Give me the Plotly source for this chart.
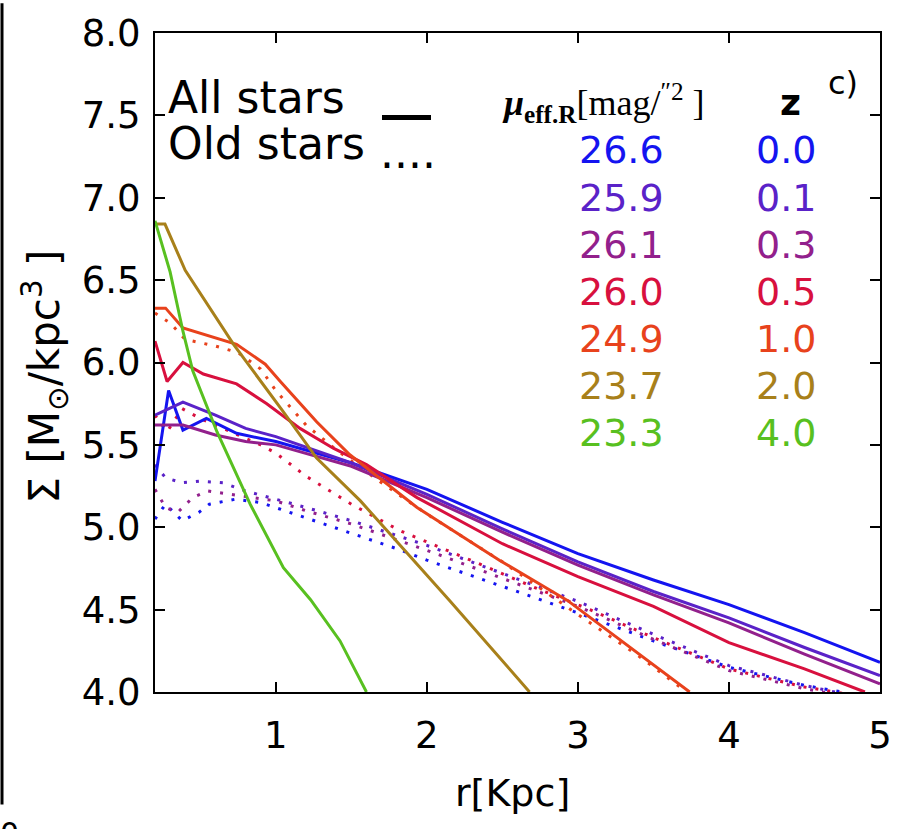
import plotly.graph_objects as go

# ---------------- data ----------------
z_labels = ["0.0", "0.1", "0.3", "0.5", "1.0", "2.0", "4.0"]
mu_labels = ["26.6", "25.9", "26.1", "26.0", "24.9", "23.7", "23.3"]
colors = ["#1414f0", "#5a22c8", "#92208c", "#d8103e", "#e8421c", "#a8801a", "#58c020"]

# solid lines: all stars
all_z00_x = [0.2, 0.29, 0.385, 0.54, 0.74, 1.0, 1.5, 2.0, 2.5, 3.0, 3.5, 4.0, 4.5, 5.0]
all_z00_y = [5.28, 5.83, 5.59, 5.66, 5.57, 5.52, 5.39, 5.23, 5.03, 4.84, 4.68, 4.53, 4.36, 4.18]
all_z01_x = [0.2, 0.385, 0.6, 0.8, 1.0, 1.5, 2.0, 2.5, 3.0, 3.5, 4.0, 4.5, 5.0]
all_z01_y = [5.68, 5.76, 5.68, 5.60, 5.55, 5.39, 5.20, 4.99, 4.79, 4.61, 4.45, 4.27, 4.10]
all_z03_x = [0.2, 0.385, 0.6, 0.8, 1.0, 1.5, 2.0, 2.5, 3.0, 3.5, 4.0, 4.5, 5.0]
all_z03_y = [5.62, 5.62, 5.56, 5.52, 5.50, 5.37, 5.18, 4.97, 4.77, 4.59, 4.42, 4.23, 4.05]
all_z05_x = [0.2, 0.28, 0.385, 0.52, 0.74, 0.94, 1.16, 1.38, 1.6, 1.935, 2.5, 3.0, 3.5, 4.0, 4.5, 4.9]
all_z05_y = [6.13, 5.885, 6.0, 5.93, 5.87, 5.75, 5.60, 5.48, 5.38, 5.18, 4.90, 4.70, 4.52, 4.30, 4.14, 4.0]
all_z10_x = [0.2, 0.27, 0.385, 0.61, 0.74, 0.93, 1.03, 1.27, 1.49, 1.935, 2.48, 2.93, 3.74]
all_z10_y = [6.33, 6.33, 6.21, 6.145, 6.11, 5.99, 5.885, 5.64, 5.44, 5.12, 4.80, 4.556, 4.0]
all_z20_x = [0.2, 0.266, 0.40, 0.72, 1.05, 1.27, 1.56, 2.15, 2.68]
all_z20_y = [6.84, 6.84, 6.56, 6.11, 5.70, 5.42, 5.16, 4.556, 4.0]
all_z40_x = [0.2, 0.30, 0.385, 0.45, 0.61, 0.83, 1.05, 1.23, 1.425, 1.6]
all_z40_y = [6.86, 6.55, 6.19, 5.95, 5.58, 5.14, 4.755, 4.56, 4.31, 4.0]

# dotted lines: old stars
old_z00_x = [0.2, 0.27, 0.38, 0.49, 0.56, 0.73, 0.9, 1.06, 1.21, 1.38, 1.6, 1.8, 2.0, 2.35, 2.66, 3.0, 3.5, 4.0, 4.5, 4.75]
old_z00_y = [5.05, 5.14, 5.04, 5.09, 5.14, 5.17, 5.15, 5.10, 5.05, 5.00, 4.93, 4.87, 4.80, 4.69, 4.59, 4.48, 4.31, 4.15, 4.04, 4.0]
old_z01_x = [0.2, 0.27, 0.38, 0.5, 0.65, 0.8, 1.0, 1.2, 1.5, 2.0, 2.5, 3.0, 3.5, 4.0, 4.5, 4.8]
old_z01_y = [5.38, 5.30, 5.27, 5.28, 5.27, 5.22, 5.17, 5.12, 5.04, 4.89, 4.72, 4.55, 4.35, 4.16, 4.04, 3.98]
old_z03_x = [0.2, 0.27, 0.35, 0.45, 0.55, 0.7, 0.85, 1.0, 1.2, 1.5, 2.0, 2.5, 3.0, 3.5, 4.0, 4.5, 4.8]
old_z03_y = [5.23, 5.12, 5.09, 5.18, 5.22, 5.20, 5.18, 5.16, 5.10, 5.02, 4.86, 4.69, 4.52, 4.32, 4.13, 4.02, 3.97]
old_z05_x = [0.2, 0.28, 0.38, 0.5, 0.7, 0.9, 1.0, 1.2, 1.5, 1.82, 2.29, 2.75, 3.08, 3.5, 4.0, 4.5, 4.9]
old_z05_y = [5.68, 5.58, 5.72, 5.66, 5.58, 5.50, 5.45, 5.31, 5.14, 4.98, 4.80, 4.62, 4.50, 4.33, 4.14, 4.03, 3.97]
old_z10_x = [0.2, 0.3, 0.4, 0.6, 0.75, 0.9, 1.0, 1.2, 1.4, 1.7, 2.0, 2.5, 3.0, 3.4, 3.72]
old_z10_y = [6.30, 6.24, 6.14, 6.10, 6.06, 5.96, 5.83, 5.62, 5.47, 5.27, 5.08, 4.79, 4.47, 4.22, 4.0]

all_series = [(all_z00_x, all_z00_y), (all_z01_x, all_z01_y), (all_z03_x, all_z03_y),
              (all_z05_x, all_z05_y), (all_z10_x, all_z10_y), (all_z20_x, all_z20_y),
              (all_z40_x, all_z40_y)]
old_series = [(old_z00_x, old_z00_y), (old_z01_x, old_z01_y), (old_z03_x, old_z03_y),
              (old_z05_x, old_z05_y), (old_z10_x, old_z10_y)]

x_ticks = [1, 2, 3, 4, 5]
y_ticks = [4.0, 4.5, 5.0, 5.5, 6.0, 6.5, 7.0, 7.5, 8.0]

# ---------------- figure ----------------
W, H = 904, 829
L, R, T, B = 155, 24, 30, 137
PW, PH = W - L - R, H - T - B


def px(xp):
    return (xp - L) / PW


def py(yp):
    return (H - B - yp) / PH


FONT = "DejaVu Sans"
fig = go.Figure()

for i, (xs, ys) in enumerate(old_series):
    fig.add_trace(go.Scatter(x=xs, y=ys, mode="lines",
                             line=dict(color=colors[i], width=3, dash="3px,9px"),
                             showlegend=False, hoverinfo="skip"))
for i, (xs, ys) in enumerate(all_series):
    fig.add_trace(go.Scatter(x=xs, y=ys, mode="lines",
                             line=dict(color=colors[i], width=3),
                             showlegend=False, hoverinfo="skip"))

ann = []
# legend-like text
ann.append(dict(text="All stars", x=px(166), y=py(95), xanchor="left", yanchor="middle",
                font=dict(family=FONT, size=44, color="black")))
ann.append(dict(text="Old stars", x=px(166), y=py(141), xanchor="left", yanchor="middle",
                font=dict(family=FONT, size=44, color="black")))
ann.append(dict(text="....", x=px(378), y=py(150), xanchor="left", yanchor="middle",
                font=dict(family=FONT, size=44, color="black")))
# header
ann.append(dict(text="<b><i>μ</i></b><sub><b>eff.R</b></sub>[mag/<sup>″2</sup> ]",
                x=px(500), y=py(100), xanchor="left", yanchor="middle",
                font=dict(family="Liberation Serif", size=36, color="black")))
ann.append(dict(text="<b>z</b>", x=px(790), y=py(100), xanchor="center", yanchor="middle",
                font=dict(family=FONT, size=36, color="black")))
ann.append(dict(text="c)", x=px(843), y=py(80), xanchor="center", yanchor="middle",
                font=dict(family=FONT, size=32, color="black")))
for i in range(len(z_labels)):
    yc = 148 + i * 47.3
    ann.append(dict(text=mu_labels[i], x=px(621), y=py(yc), xanchor="center", yanchor="middle",
                    font=dict(family=FONT, size=38, color=colors[i])))
    ann.append(dict(text=z_labels[i], x=px(786), y=py(yc), xanchor="center", yanchor="middle",
                    font=dict(family=FONT, size=38, color=colors[i])))
# axis titles
ann.append(dict(text="r[Kpc]", x=px(512), y=py(793), xanchor="center", yanchor="middle",
                font=dict(family=FONT, size=38, color="black")))
ann.append(dict(text="Σ [M<sub>⊙</sub>/kpc<sup>3</sup> ]", x=px(45), y=py(375), textangle=-90,
                xanchor="center", yanchor="middle",
                font=dict(family=FONT, size=42, color="black")))
# cropped remnant at bottom-left
ann.append(dict(text="0", x=px(9), y=py(834), xanchor="center", yanchor="middle",
                font=dict(family=FONT, size=30, color="black")))
for a in ann:
    a.update(xref="paper", yref="paper", showarrow=False)

shapes = [
    dict(type="line", xref="paper", yref="paper", x0=px(382), x1=px(431), y0=py(115), y1=py(115),
         line=dict(color="black", width=5)),
    dict(type="line", xref="paper", yref="paper", x0=px(2), x1=px(2), y0=py(0), y1=py(805),
         line=dict(color="black", width=3)),
]

axis_common = dict(showline=True, linecolor="black", linewidth=2, mirror="ticks",
                   ticks="inside", ticklen=10, tickwidth=1.5, tickcolor="black",
                   showgrid=False, zeroline=False,
                   tickfont=dict(family=FONT, size=37, color="black"))

fig.update_layout(
    width=W, height=H,
    margin=dict(l=L, r=R, t=T, b=B, pad=0),
    paper_bgcolor="white", plot_bgcolor="white",
    xaxis=dict(range=[0.2, 5.0], tickvals=x_ticks, ticklabelstandoff=10, **axis_common),
    yaxis=dict(range=[4.0, 8.0], tickvals=y_ticks, tickformat=".1f", ticklabelstandoff=5,
               **axis_common),
    annotations=ann, shapes=shapes,
)

fig.write_html("out.html")
